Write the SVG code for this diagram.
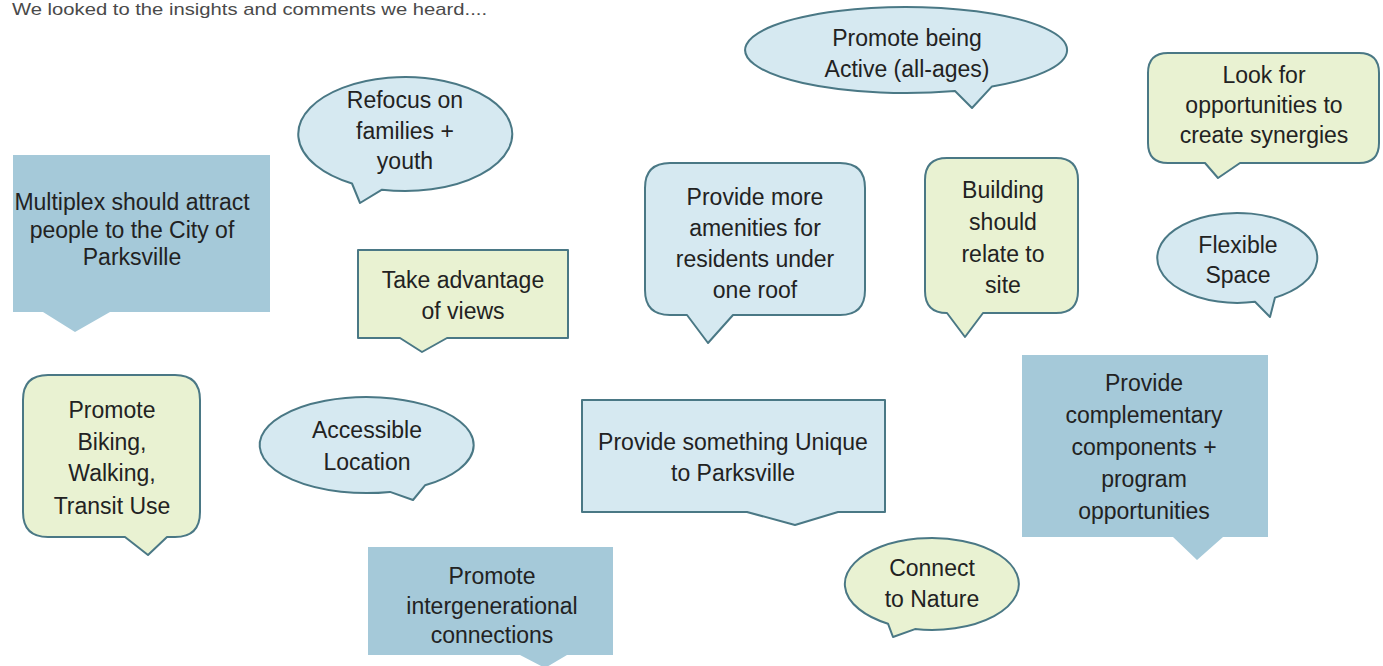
<svg xmlns="http://www.w3.org/2000/svg" width="1383" height="666" viewBox="0 0 1383 666">
<style>
.t{font-family:"Liberation Sans",Arial,sans-serif;font-size:23px;fill:#222;text-anchor:middle}
.dark{fill:#a5c9d9;stroke:none}
.lb{fill:#d6e9f1;stroke:#4a7885;stroke-width:2;stroke-linejoin:round}
.lg{fill:#e9f2d2;stroke:#4a7885;stroke-width:2;stroke-linejoin:round}
.title{font-family:"Liberation Sans",Arial,sans-serif;font-size:17px;fill:#4a4a4a}
</style>
<rect width="1383" height="666" fill="#ffffff"/>
<text class="title" x="12" y="15" textLength="475" lengthAdjust="spacingAndGlyphs">We looked to the insights and comments we heard....</text>
<g id="connectors"></g>

<g id="multiplex">
<path class="dark" d="M13,155 H270 V312 H110 L75,332 L43,312 H13 Z"/>
<text class="t" x="132" y="210">Multiplex should attract</text>
<text class="t" x="132" y="238">people to the City of</text>
<text class="t" x="132" y="265">Parksville</text>
</g>

<g id="refocus">
<path class="lb" d="M352,183.5 A107,57 0 1,1 382,189.7 L360,203 Z"/>
<text class="t" x="405" y="108">Refocus on</text>
<text class="t" x="405" y="139">families +</text>
<text class="t" x="405" y="169">youth</text>
</g>

<g id="views">
<path class="lg" d="M358,250 H568 V338 H447 L422,352 L400,338 H358 Z"/>
<text class="t" x="463" y="288">Take advantage</text>
<text class="t" x="463" y="319">of views</text>
</g>

<g id="active">
<path class="lb" d="M955,91 A161,43 0 1,1 992,86.4 L972,108 Z"/>
<text class="t" x="907" y="46">Promote being</text>
<text class="t" x="907" y="77">Active (all-ages)</text>
</g>

<g id="amenities">
<path class="lb" d="M670,163 H840 Q865,163 865,188 V290 Q865,315 840,315 H733 L708,343 L687,315 H670 Q645,315 645,290 V188 Q645,163 670,163 Z"/>
<text class="t" x="755" y="205">Provide more</text>
<text class="t" x="755" y="236">amenities for</text>
<text class="t" x="755" y="267">residents under</text>
<text class="t" x="755" y="298">one roof</text>
</g>

<g id="building">
<path class="lg" d="M947,158 H1056 Q1078,158 1078,180 V291 Q1078,313 1056,313 H983 L965,337 L947,313 Q925,313 925,291 V180 Q925,158 947,158 Z"/>
<text class="t" x="1003" y="198">Building</text>
<text class="t" x="1003" y="230">should</text>
<text class="t" x="1003" y="262">relate to</text>
<text class="t" x="1003" y="293">site</text>
</g>

<g id="synergies">
<path class="lg" d="M1168,53 H1359 Q1379,53 1379,73 V143 Q1379,163 1359,163 H1240 L1218,178 L1205,163 H1168 Q1148,163 1148,143 V73 Q1148,53 1168,53 Z"/>
<text class="t" x="1264" y="83">Look for</text>
<text class="t" x="1264" y="113">opportunities to</text>
<text class="t" x="1264" y="143">create synergies</text>
</g>

<g id="flexible">
<path class="lb" d="M1255,301.8 A80,45 0 1,1 1275,297.6 L1270,317 Z"/>
<text class="t" x="1238" y="253">Flexible</text>
<text class="t" x="1238" y="283">Space</text>
</g>

<g id="biking">
<path class="lg" d="M48,375 H175 Q200,375 200,400 V512 Q200,537 175,537 H167 L148,555 L125,537 H48 Q23,537 23,512 V400 Q23,375 48,375 Z"/>
<text class="t" x="112" y="418">Promote</text>
<text class="t" x="112" y="450">Biking,</text>
<text class="t" x="112" y="481">Walking,</text>
<text class="t" x="112" y="514">Transit Use</text>
</g>

<g id="accessible">
<path class="lb" d="M390,491.9 A107,48 0 1,1 425,485.3 L413,500 Z"/>
<text class="t" x="367" y="438">Accessible</text>
<text class="t" x="367" y="470">Location</text>
</g>

<g id="intergenerational">
<path class="dark" d="M368,547 H613 V655 H567 L545,668 L520,655 H368 Z"/>
<text class="t" x="492" y="584">Promote</text>
<text class="t" x="492" y="614">intergenerational</text>
<text class="t" x="492" y="643">connections</text>
</g>

<g id="unique">
<path class="lb" d="M582,400 H885 V512 H838 L795,525 L747,512 H582 Z"/>
<text class="t" x="733" y="450">Provide something Unique</text>
<text class="t" x="733" y="481">to Parksville</text>
</g>

<g id="nature">
<path class="lg" d="M888,623.7 A87,46 0 1,1 915,629.1 L893,637 Z"/>
<text class="t" x="932" y="576">Connect</text>
<text class="t" x="932" y="607">to Nature</text>
</g>

<g id="complementary">
<path class="dark" d="M1022,355 H1268 V537 H1223 L1197,560 L1173,537 H1022 Z"/>
<text class="t" x="1144" y="391">Provide</text>
<text class="t" x="1144" y="423">complementary</text>
<text class="t" x="1144" y="455">components +</text>
<text class="t" x="1144" y="487">program</text>
<text class="t" x="1144" y="519">opportunities</text>
</g>
</svg>
